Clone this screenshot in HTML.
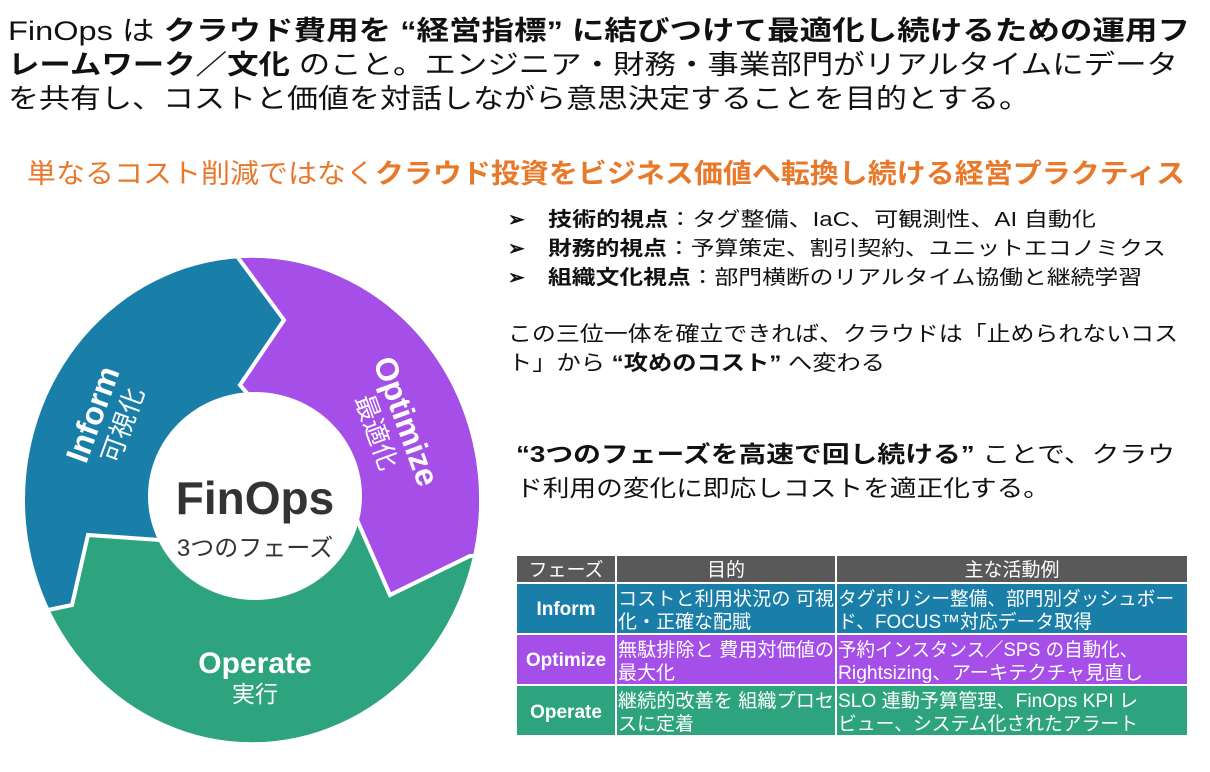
<!DOCTYPE html>
<html><head><meta charset="utf-8"><style>
html,body{margin:0;padding:0;background:#fff;}
svg{display:block;font-family:"Liberation Sans","Noto Sans CJK JP",sans-serif;}
</style></head><body>
<svg width="1210" height="772" viewBox="0 0 1210 772" xmlns="http://www.w3.org/2000/svg">
<defs>
<clipPath id="ring"><path fill-rule="evenodd" d="M25,500 a227,242 0 1,0 454,0 a227,242 0 1,0 -454,0 Z"/></clipPath>
</defs>
<g fill="#111" font-size="27">
<text x="8" y="40" textLength="1182" lengthAdjust="spacingAndGlyphs">FinOps は <tspan font-weight="bold">クラウド費用を “経営指標” に結びつけて最適化し続けるための運用フ</tspan></text>
<text x="8" y="74" textLength="1170" lengthAdjust="spacingAndGlyphs"><tspan font-weight="bold">レームワーク／文化</tspan> のこと。エンジニア・財務・事業部門がリアルタイムにデータ</text>
<text x="8" y="108" textLength="1022" lengthAdjust="spacingAndGlyphs">を共有し、コストと価値を対話しながら意思決定することを目的とする。</text>
</g>
<text x="27" y="183" font-size="27" fill="#e8782a" textLength="1158" lengthAdjust="spacingAndGlyphs">単なるコスト削減ではなく<tspan font-weight="bold">クラウド投資をビジネス価値へ転換し続ける経営プラクティス</tspan></text>
<g fill="#111" font-size="20">
<text x="508" y="226" font-weight="bold">➢</text><text x="548" y="226" textLength="548" lengthAdjust="spacingAndGlyphs"><tspan font-weight="bold">技術的視点</tspan>：タグ整備、IaC、可観測性、AI 自動化</text>
<text x="508" y="255" font-weight="bold">➢</text><text x="548" y="255" textLength="618" lengthAdjust="spacingAndGlyphs"><tspan font-weight="bold">財務的視点</tspan>：予算策定、割引契約、ユニットエコノミクス</text>
<text x="508" y="284" font-weight="bold">➢</text><text x="548" y="284" textLength="594" lengthAdjust="spacingAndGlyphs"><tspan font-weight="bold">組織文化視点</tspan>：部門横断のリアルタイム協働と継続学習</text>
<text x="508" y="341" font-size="21" textLength="670" lengthAdjust="spacingAndGlyphs">この三位一体を確立できれば、クラウドは「止められないコス</text>
<text x="508" y="370" font-size="21" textLength="377" lengthAdjust="spacingAndGlyphs">ト」から <tspan font-weight="bold">“攻めのコスト”</tspan> へ変わる</text>
<text x="516" y="462" font-size="23" textLength="659" lengthAdjust="spacingAndGlyphs"><tspan font-weight="bold">“3つのフェーズを高速で回し続ける”</tspan> ことで、クラウ</text>
<text x="516" y="496" font-size="23" textLength="534" lengthAdjust="spacingAndGlyphs">ド利用の変化に即応しコストを適正化する。</text>
</g>
<g clip-path="url(#ring)">
<rect x="0" y="240" width="500" height="520" fill="#1a7fa8"/>
<polygon points="225,240 284,320 240,385 357,520 390,595 470,556 520,556 520,240" fill="#a64ee8" stroke="#fff" stroke-width="4"/>
<polygon points="160,540 88,535 72,605 0,620 0,780 520,780 520,556 470,556 390,595 357,520 250,500" fill="#2ea47e" stroke="#fff" stroke-width="4"/>
</g>
<ellipse cx="255" cy="496" rx="107" ry="104" fill="#fff"/>
<text x="255" y="514" font-size="46" font-weight="bold" fill="#333" text-anchor="middle">FinOps</text>
<text x="255" y="556" font-size="24" fill="#333" text-anchor="middle">3つのフェーズ</text>
<g transform="translate(103,418) rotate(-70)" fill="#fff" text-anchor="middle">
<text x="0" y="0" font-size="32" font-weight="bold">Inform</text>
<text x="0" y="30" font-size="26">可視化</text>
</g>
<g transform="translate(396,425) rotate(70)" fill="#fff" text-anchor="middle">
<text x="0" y="0" font-size="32" font-weight="bold">Optimize</text>
<text x="0" y="30" font-size="26">最適化</text>
</g>
<text x="255" y="673" font-size="30" font-weight="bold" fill="#fff" text-anchor="middle">Operate</text>
<text x="255" y="702" font-size="23" fill="#fff" text-anchor="middle">実行</text>
<g stroke="#fff" stroke-width="2">
<rect x="516" y="555" width="672" height="28" fill="#595959"/>
<rect x="516" y="583" width="672" height="51" fill="#1a7fa8"/>
<rect x="516" y="634" width="672" height="51" fill="#a64ee8"/>
<rect x="516" y="685" width="672" height="51" fill="#2ea47e"/>
<line x1="616" y1="555" x2="616" y2="736"/>
<line x1="836" y1="555" x2="836" y2="736"/>
</g>
<g fill="#fff" font-size="19">
<text x="566" y="576" text-anchor="middle">フェーズ</text>
<text x="726" y="576" text-anchor="middle">目的</text>
<text x="1012" y="576" text-anchor="middle">主な活動例</text>
<text x="566" y="615" text-anchor="middle" font-weight="bold">Inform</text>
<text x="566" y="666" text-anchor="middle" font-weight="bold">Optimize</text>
<text x="566" y="718" text-anchor="middle" font-weight="bold">Operate</text>
<text x="618" y="605" textLength="216" lengthAdjust="spacingAndGlyphs">コストと利用状況の 可視</text>
<text x="618" y="628">化・正確な配賦</text>
<text x="618" y="656" textLength="216" lengthAdjust="spacingAndGlyphs">無駄排除と 費用対価値の</text>
<text x="618" y="679">最大化</text>
<text x="618" y="707" textLength="216" lengthAdjust="spacingAndGlyphs">継続的改善を 組織プロセ</text>
<text x="618" y="730">スに定着</text>
<text x="838" y="605" textLength="336" lengthAdjust="spacingAndGlyphs">タグポリシー整備、部門別ダッシュボー</text>
<text x="838" y="628" textLength="254" lengthAdjust="spacingAndGlyphs">ド、FOCUS™対応データ取得</text>
<text x="838" y="656" textLength="300" lengthAdjust="spacingAndGlyphs">予約インスタンス／SPS の自動化、</text>
<text x="838" y="679" textLength="305" lengthAdjust="spacingAndGlyphs">Rightsizing、アーキテクチャ見直し</text>
<text x="838" y="707" textLength="300" lengthAdjust="spacingAndGlyphs">SLO 連動予算管理、FinOps KPI レ</text>
<text x="838" y="730" textLength="300" lengthAdjust="spacingAndGlyphs">ビュー、システム化されたアラート</text>
</g>
</svg>
</body></html>
